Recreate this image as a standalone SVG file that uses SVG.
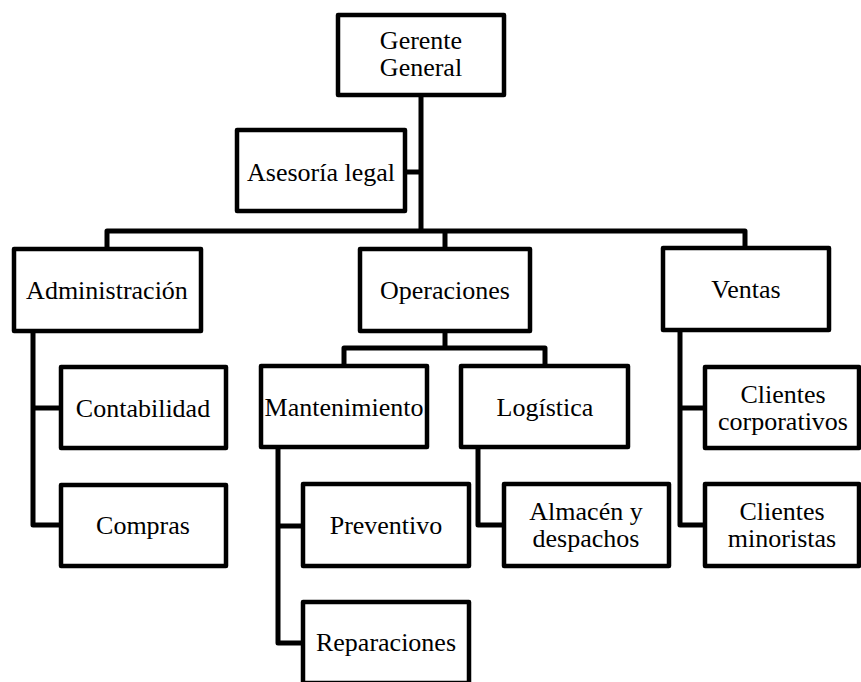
<svg xmlns="http://www.w3.org/2000/svg" width="861" height="682" viewBox="0 0 861 682">
  <style>
    .box { fill: #ffffff; stroke: #000000; stroke-width: 4.5; stroke-linejoin: round; }
    .lbl { font-family: 'Liberation Serif', 'Times New Roman', serif; font-size: 26px; fill: #000000; text-anchor: middle; }
    .wire { fill: none; stroke: #000000; stroke-width: 5; stroke-linejoin: round; stroke-linecap: butt; }
  </style>
  <rect width="861" height="682" fill="#ffffff"/>

  <!-- connectors -->
  <g id="connectors">
    <path class="wire" d="M421 95 V231"/>
    <path class="wire" d="M405 172 H421"/>
    <path class="wire" d="M107 249 V231 H745 V248"/>
    <path class="wire" d="M445 231 V249"/>
    <!-- Operaciones branch -->
    <path class="wire" d="M445 331 V348"/>
    <path class="wire" d="M344 366 V348 H545 V366"/>
    <!-- Administración branch -->
    <path class="wire" d="M33 331 V525 H61"/>
    <path class="wire" d="M33 408 H61"/>
    <!-- Mantenimiento branch -->
    <path class="wire" d="M278 447 V643 H303"/>
    <path class="wire" d="M278 526 H303"/>
    <!-- Logística branch -->
    <path class="wire" d="M478 447 V525 H504"/>
    <!-- Ventas branch -->
    <path class="wire" d="M680 330 V525 H705"/>
    <path class="wire" d="M680 408 H705"/>
  </g>

  <g id="gerente">
    <rect class="box" x="338" y="15" width="166" height="80"/>
    <text class="lbl" x="421" y="49">Gerente<tspan x="421" dy="27">General</tspan></text>
  </g>
  <g id="asesoria">
    <rect class="box" x="237" y="130" width="168" height="81"/>
    <text class="lbl" x="321" y="181">Asesoría legal</text>
  </g>
  <g id="administracion">
    <rect class="box" x="14" y="249" width="187" height="82"/>
    <text class="lbl" x="107" y="299">Administración</text>
  </g>
  <g id="operaciones">
    <rect class="box" x="360" y="249" width="170" height="82"/>
    <text class="lbl" x="445" y="299">Operaciones</text>
  </g>
  <g id="ventas">
    <rect class="box" x="663" y="248" width="166" height="82"/>
    <text class="lbl" x="746" y="298">Ventas</text>
  </g>
  <g id="contabilidad">
    <rect class="box" x="61" y="367" width="165" height="81"/>
    <text class="lbl" x="143" y="417">Contabilidad</text>
  </g>
  <g id="compras">
    <rect class="box" x="61" y="485" width="165" height="81"/>
    <text class="lbl" x="143" y="534">Compras</text>
  </g>
  <g id="mantenimiento">
    <rect class="box" x="261" y="366" width="166" height="81"/>
    <text class="lbl" x="344" y="416">Mantenimiento</text>
  </g>
  <g id="logistica">
    <rect class="box" x="461" y="366" width="167" height="81"/>
    <text class="lbl" x="545" y="416">Logística</text>
  </g>
  <g id="preventivo">
    <rect class="box" x="303" y="484" width="166" height="82"/>
    <text class="lbl" x="386" y="534">Preventivo</text>
  </g>
  <g id="almacen">
    <rect class="box" x="504" y="484" width="165" height="82"/>
    <text class="lbl" x="586" y="520">Almacén y<tspan x="586" dy="27">despachos</tspan></text>
  </g>
  <g id="reparaciones">
    <rect class="box" x="303" y="602" width="166" height="81"/>
    <text class="lbl" x="386" y="651">Reparaciones</text>
  </g>
  <g id="clientes-corporativos">
    <rect class="box" x="705" y="367" width="154" height="81"/>
    <text class="lbl" x="783" y="403">Clientes<tspan x="783" dy="27">corporativos</tspan></text>
  </g>
  <g id="clientes-minoristas">
    <rect class="box" x="705" y="484" width="154" height="82"/>
    <text class="lbl" x="782" y="520">Clientes<tspan x="782" dy="27">minoristas</tspan></text>
  </g>
</svg>
